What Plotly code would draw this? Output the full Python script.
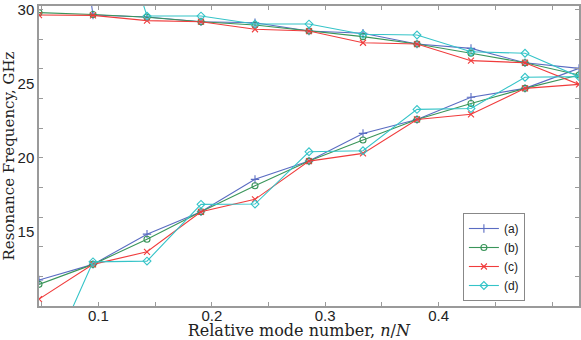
import plotly.graph_objects as go

# mode number n out of N; the two branches meet at the last mode
N_TOTAL = 21
MODE_N = list(range(1, 12))

# (a)
A_LOWER = [11.75, 12.81, 14.85, 16.36, 18.55, 19.78, 21.65, 22.59, 24.09, 24.69, 26.04]
A_UPPER = [55.0, 29.64, 29.51, 29.19, 29.12, 28.56, 28.41, 27.68, 27.39, 26.42]
# (b)
B_LOWER = [11.46, 12.81, 14.51, 16.36, 18.12, 19.78, 21.20, 22.59, 23.67, 24.69, 25.59]
B_UPPER = [29.80, 29.68, 29.49, 29.19, 28.97, 28.56, 28.18, 27.68, 27.06, 26.42]
# (c)
C_LOWER = [10.47, 12.81, 13.66, 16.36, 17.20, 19.78, 20.30, 22.59, 22.94, 24.69, 24.96]
C_UPPER = [29.64, 29.62, 29.26, 29.19, 28.68, 28.56, 27.77, 27.68, 26.56, 26.42]
# (d)
D_LOWER = [4.80, 12.98, 13.03, 16.86, 16.88, 20.41, 20.48, 23.27, 23.33, 25.44, 25.48]
D_UPPER = [41.0, 41.0, 29.57, 29.57, 29.03, 29.03, 28.34, 28.29, 27.16, 27.06]

SERIES = [
    ("(a)", A_LOWER, A_UPPER, "#5a6cc2", "cross-thin-open"),
    ("(b)", B_LOWER, B_UPPER, "#3a955a", "circle-open"),
    ("(c)", C_LOWER, C_UPPER, "#f03c3c", "x-thin-open"),
    ("(d)", D_LOWER, D_UPPER, "#35c4c8", "diamond-open"),
]

AXIS_GREY = "#9a9a9a"
SERIF = "DejaVu Serif"
SANS = "Liberation Sans"

fig = go.Figure()

for name, lower, upper, color, symbol in SERIES:
    # go up the lower branch, then back down the upper one
    xs = [n / N_TOTAL for n in MODE_N] + [n / N_TOTAL for n in MODE_N[-2::-1]]
    ys = list(lower) + list(upper[::-1])
    fig.add_trace(
        go.Scatter(
            x=xs,
            y=ys,
            name=name,
            mode="lines+markers",
            line=dict(color=color, width=1.1),
            marker=dict(symbol=symbol, size=6, color=color, line=dict(color=color, width=1.1)),
        )
    )

fig.update_layout(
    width=581,
    height=340,
    margin=dict(l=39, r=2, t=6, b=34),
    paper_bgcolor="white",
    plot_bgcolor="white",
    font=dict(family=SANS, color="#222"),
    showlegend=True,
    legend=dict(
        x=0.785,
        y=0.31,
        xanchor="left",
        yanchor="top",
        bgcolor="white",
        bordercolor="#888",
        borderwidth=1,
        font=dict(family=SANS, size=12, color="#222"),
        tracegroupgap=0,
    ),
)

fig.update_xaxes(
    range=[1 / N_TOTAL, 11 / N_TOTAL],
    tickvals=[0.1, 0.2, 0.3, 0.4],
    ticktext=["0.1", "0.2", "0.3", "0.4"],
    ticks="inside",
    ticklen=4,
    tickcolor=AXIS_GREY,
    minor=dict(tickvals=[0.05, 0.15, 0.25, 0.35, 0.45, 0.5], ticks="inside", ticklen=4, tickcolor=AXIS_GREY),
    showgrid=False,
    zeroline=False,
    showline=True,
    linecolor=AXIS_GREY,
    linewidth=1.5,
    mirror="ticks",
    automargin=False,
    ticklabelstandoff=-5,
    tickfont=dict(family=SANS, size=15, color="#222"),
    title=dict(
        # trailing spaces nudge the centred title a little to the left, as in the original
        text="Relative mode number, <i>n</i>/<i>N</i>&nbsp;&nbsp;&nbsp;&nbsp;",
        font=dict(family=SERIF, size=16, color="#222"),
        standoff=2,
    ),
)

fig.update_yaxes(
    range=[10, 30.25],
    tickvals=[15, 20, 25, 30],
    ticks="inside",
    ticklen=0,
    minor=dict(tickvals=list(range(10, 31, 2)), ticks="inside", ticklen=4, tickcolor=AXIS_GREY),
    showgrid=False,
    zeroline=False,
    showline=True,
    linecolor=AXIS_GREY,
    linewidth=1.5,
    mirror="ticks",
    automargin=False,
    tickfont=dict(family=SANS, size=15, color="#222"),
    title=dict(
        text="Resonance Frequency, GHz",
        font=dict(family=SERIF, size=15, color="#222"),
        standoff=0,
    ),
)

# the page body has a default 8px margin; drop it so the figure sits at the window corner
fig.write_html(
    "out.html",
    config={"displayModeBar": False},
    post_script="document.body.style.margin = '0';",
)
